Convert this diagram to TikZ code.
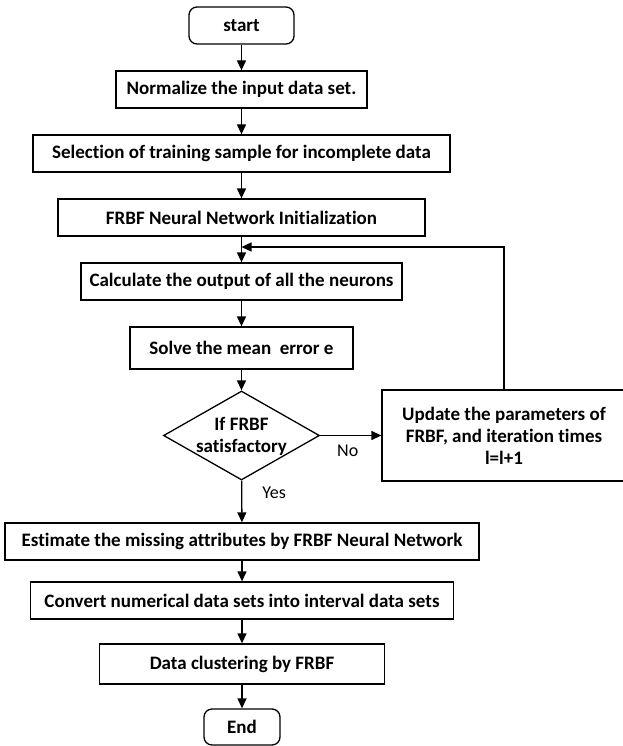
\documentclass[tikz,border=0pt]{standalone}
\usepackage{fontspec}
\setmainfont{Carlito}[Ligatures=NoCommon]
\usetikzlibrary{arrows.meta,shapes.geometric}
\begin{document}
\begin{tikzpicture}[x=1pt,y=-1pt,
  every node/.style={inner sep=0pt},
  txt/.style={font=\bfseries\fontsize{19}{22}\selectfont, align=center},
  box/.style={draw, line width=1.3pt, txt, minimum height=37pt},
  term/.style={box, rounded corners=8pt},
  flow/.style={line width=1.3pt, -{Triangle[length=10pt,width=9pt]}},
  lbl/.style={font=\fontsize{18}{20}\selectfont}
]
\useasboundingbox (0,0) rectangle (623,746);
\node[term, minimum width=105pt] (start) at (241.5,25.5) {start};
\node[box, minimum width=251pt] (norm) at (241.5,89.5) {Normalize the input data set.};
\node[box, minimum width=417pt] (sel) at (241.5,153.5) {Selection of training sample for incomplete data};
\node[box, minimum width=367pt] (init) at (241.5,217.5) {FRBF Neural Network Initialization};
\node[box, minimum width=321pt] (calc) at (241.5,281.5) {Calculate the output of all the neurons};
\node[box, minimum width=223pt, minimum height=42pt] (solve) at (241.5,348) {Solve the mean\ \ error e};
\node[draw, line width=1.3pt, shape=diamond, minimum width=156pt, minimum height=89pt] (dec) at (241.5,435.5) {};
\node[txt] (dectext) at (241.5,436.5) {If FRBF\\satisfactory};
\node[box, minimum width=244pt, minimum height=91pt] (upd) at (504,435.5) {Update the parameters of\\FRBF, and iteration times\\l=l+1};
\node[box, minimum width=474pt] (est) at (242,541.5) {Estimate the missing attributes by FRBF Neural Network};
\node[box, minimum width=423pt] (conv) at (242,600.5) {Convert numerical data sets into interval data sets};
\node[box, minimum width=285pt, minimum height=40pt] (clus) at (242,664) {Data clustering by FRBF};
\node[term, minimum width=76pt, minimum height=36pt] (fin) at (242,727) {End};
\coordinate (join) at (241.5,247);
\draw[flow] (start) -- (norm);
\draw[flow] (norm) -- (sel);
\draw[flow] (sel) -- (init);
\draw[flow] (init) -- (calc);
\draw[flow] (calc) -- (solve);
\draw[flow] (solve) -- (dec);
\draw[flow] (dec) -- node[lbl, below=9pt, pos=0.45] (no) {No} (upd);
\draw[flow] (upd.north) |- (join);
\draw[flow] (dec) -- node[lbl, right=20pt, pos=0.3] (yes) {Yes} (est);
\draw[flow] (est) -- (conv);
\draw[flow] (conv) -- (clus);
\draw[flow] (clus) -- (fin);
\end{tikzpicture}
\end{document}
